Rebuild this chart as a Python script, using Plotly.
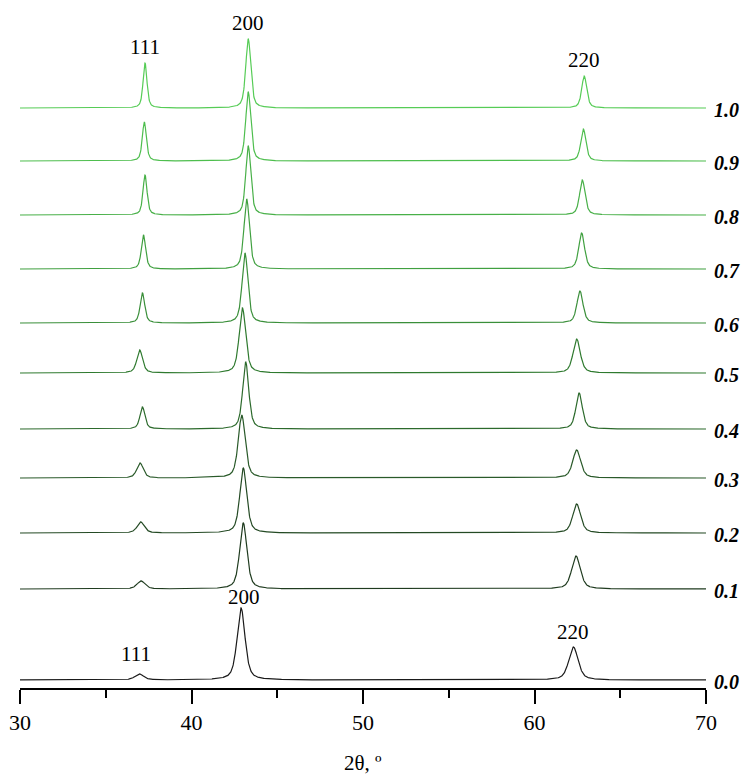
import numpy as np
import plotly.graph_objects as go

# ---- data ----
compositions = ["0.0", "0.1", "0.2", "0.3", "0.4", "0.5", "0.6", "0.7", "0.8", "0.9", "1.0"]
# vertical offsets of each pattern (arbitrary intensity units)
offsets = [8, 99, 155, 210, 259, 315, 365, 419, 473, 527, 580]

# peak positions (2theta, deg)
pos_111 = [36.96, 37.06, 37.04, 37.00, 37.14, 36.98, 37.14, 37.20, 37.29, 37.25, 37.29]
pos_200 = [42.89, 43.02, 43.02, 42.93, 43.16, 42.97, 43.12, 43.22, 43.31, 43.31, 43.31]
pos_220 = [62.27, 62.42, 62.46, 62.46, 62.60, 62.46, 62.65, 62.75, 62.79, 62.85, 62.90]
# peak heights (a.u.)
h_111 = [6, 8, 11, 15, 22, 23, 30, 34, 40, 39, 45]
h_200 = [72, 66, 65, 63, 67, 65, 70, 70, 69, 69, 69]
h_220 = [33, 33, 29, 28, 36, 34, 32, 36, 35, 32, 32]
# peak widths FWHM (deg)
w_111 = [0.60, 0.55, 0.50, 0.45, 0.35, 0.40, 0.32, 0.30, 0.28, 0.28, 0.27]
w_200 = [0.55, 0.50, 0.48, 0.48, 0.42, 0.45, 0.40, 0.38, 0.35, 0.35, 0.35]
w_220 = [0.65, 0.60, 0.55, 0.55, 0.45, 0.50, 0.42, 0.40, 0.38, 0.36, 0.35]

colors = ["#1a1a1a", "#1f3b1f", "#244a24", "#2a5a2a", "#2c6a2c", "#2f7a2f",
          "#3a8f3a", "#40a040", "#48b048", "#4ebe4e", "#56cc56"]

x_tick_vals = [30, 40, 50, 60, 70]


def pv(x, c, h, w, eta=0.55):
    g = np.exp(-4 * np.log(2) * ((x - c) / w) ** 2)
    l = 1.0 / (1.0 + 4 * ((x - c) / w) ** 2)
    return h * (eta * l + (1 - eta) * g)


two_theta = np.linspace(30, 70, 2401)

fig = go.Figure()
for i, comp in enumerate(compositions):
    y = (offsets[i]
         + pv(two_theta, pos_111[i], h_111[i], w_111[i])
         + pv(two_theta, pos_200[i], h_200[i], w_200[i])
         + pv(two_theta, pos_220[i], h_220[i], w_220[i]))
    fig.add_trace(go.Scatter(x=two_theta, y=y, mode="lines",
                             line=dict(color=colors[i], width=1.2),
                             showlegend=False, hoverinfo="skip"))
    fig.add_annotation(x=1.0, xref="paper", xanchor="left", xshift=6,
                       y=offsets[i] - 2, yref="y", yanchor="middle",
                       text="<b><i>%s</i></b>" % comp, showarrow=False,
                       font=dict(family="Liberation Serif", size=20, color="black"))

serif = dict(family="Liberation Serif", size=21, color="black")
# hkl labels
top = len(compositions) - 1
fig.add_annotation(x=pos_111[top], y=offsets[top] + h_111[top] + 2, text="111",
                   showarrow=False, yanchor="bottom", font=serif)
fig.add_annotation(x=pos_200[top], y=offsets[top] + h_200[top] + 2, text="200",
                   showarrow=False, yanchor="bottom", font=serif)
fig.add_annotation(x=pos_220[top], y=offsets[top] + h_220[top] + 2, text="220",
                   showarrow=False, yanchor="bottom", font=serif)
fig.add_annotation(x=pos_111[0] - 0.2, y=offsets[0] + h_111[0] + 6, text="111",
                   showarrow=False, yanchor="bottom", font=serif)
fig.add_annotation(x=pos_200[0] + 0.15, y=offsets[0] + h_200[0] - 3, text="200",
                   showarrow=False, yanchor="bottom", font=serif)
fig.add_annotation(x=pos_220[0] - 0.05, y=offsets[0] + h_220[0] + 1, text="220",
                   showarrow=False, yanchor="bottom", font=serif)

fig.add_annotation(x=0.5, xref="paper", y=-0.11, yref="paper", yanchor="middle",
                   text="2θ, º", showarrow=False, font=serif)

fig.update_layout(
    width=743, height=776,
    margin=dict(l=20, r=37, t=10, b=88),
    paper_bgcolor="white", plot_bgcolor="white",
    xaxis=dict(range=[30, 70], tickvals=x_tick_vals, showgrid=False, zeroline=False,
               showline=True, linecolor="black", linewidth=2,
               ticks="outside", ticklen=14, tickwidth=2, tickcolor="black",
               minor=dict(dtick=5, ticks="outside", ticklen=8, tickwidth=2,
                          tickcolor="black", showgrid=False),
               tickfont=dict(family="Liberation Serif", size=22, color="black")),
    yaxis=dict(range=[0, 678], visible=False, showgrid=False, zeroline=False),
)

fig.write_html("out.html",
               config={"displayModeBar": False},
               post_script="document.body.style.margin='0';"
                           "document.body.style.overflow='hidden';")
